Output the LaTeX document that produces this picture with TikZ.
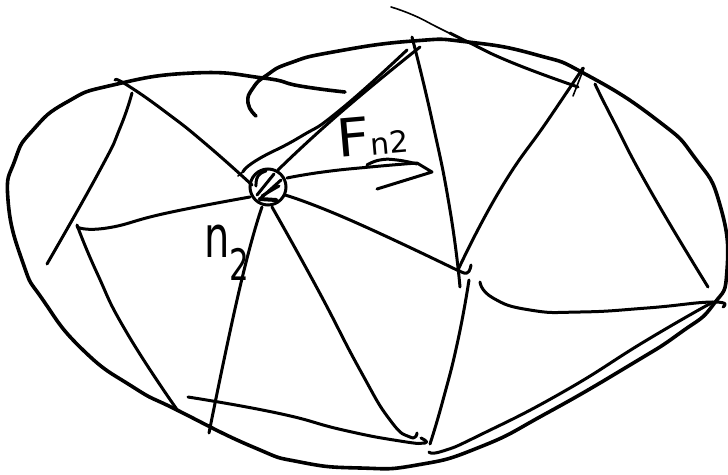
\documentclass[tikz,border=0pt]{standalone}
\usepackage{graphicx}
\usepackage{fontspec}
\setmainfont{DejaVu Sans}
\tikzset{
  pen/.style={line width=3pt,line cap=round,line join=round,black},
  heavy pen/.style={pen,line width=3.6pt},
  thin pen/.style={pen,line width=1.6pt},
  curve/.style={smooth,tension=0.9},
  handlabel/.style={inner sep=0pt,anchor=base west}
}
\newcommand{\fsz}[1]{\fontsize{#1}{#1}\selectfont}
\begin{document}
\begin{tikzpicture}[x=1pt,y=-1pt]
\useasboundingbox (0,0) rectangle (728,474);
% outer boundary
\draw[heavy pen] plot[curve] coordinates {(345,92) (300,86) (263,78) (193,73) (113,85) (67,102) (33,130) (15,160) (8,200) (23,263) (43,300) (83,350) (133,387) (177,410) (253,447) (300,462) (360,468) (417,465) (480,447) (547,413) (630,365) (680,333) (713,305) (727,270) (720,205) (695,158) (657,120) (587,75) (537,55) (468,42) (413,41) (333,52) (290,63) (267,75) (253,88) (248,103) (256,116)};
% long top stroke
\draw[thin pen] plot[curve] coordinates {(391,7) (413,15) (437,27) (455,36)};
\draw[pen] plot[curve] coordinates {(450,33) (468,42) (513,63) (578,87)};
% interior edges
\draw[thin pen] (238,176) -- (245,170);
\draw[pen] plot[curve] coordinates {(243,172) (257,160) (300,137) (340,110) (407,50)};
\draw[pen] plot[curve] coordinates {(278,170) (340,113) (420,47)};
\draw[pen] plot[curve] coordinates {(115,80) (127,85) (167,113) (207,145) (252,185)};
\draw[pen] plot[curve] coordinates {(132,93) (120,128) (100,170) (47,264)};
\draw[pen] plot[curve] coordinates {(77,227) (107,228) (167,213) (250,197)};
\draw[pen] plot[curve] coordinates {(77,225) (97,273) (127,333) (178,411)};
\draw[pen] plot[curve] coordinates {(262,207) (240,287) (209,433)};
\draw[pen] plot[curve] coordinates {(272,207) (317,288) (360,370) (390,420) (410,437) (417,433)};
\draw[pen] plot[curve] coordinates {(188,397) (277,413) (343,430) (400,441) (425,443) (421,438)};
\draw[pen] plot[curve] coordinates {(285,195) (350,220) (459,271)};
\draw[pen] plot[curve] coordinates {(412,37) (432,120) (450,210) (460,287)};
\draw[pen] plot[curve] coordinates {(458,270) (467,273) (471,265)};
\draw[pen] plot[curve] coordinates {(469,280) (458,340) (443,400) (430,444)};
\draw[pen] plot[curve] coordinates {(458,270) (500,190) (548,120) (583,68)};
\draw[thin pen] (573,96) -- (584,68);
\draw[pen] plot[curve] coordinates {(595,84) (613,120) (650,190) (708,287)};
\draw[pen] plot[curve] coordinates {(480,282) (493,298) (530,310) (580,312) (647,308) (713,302) (723,307)};
\draw[pen] plot[curve] coordinates {(429,452) (443,451) (480,435) (563,392) (647,340) (713,302)};
% force arrow
\draw[pen] plot[curve] coordinates {(287,178) (323,172) (370,167) (417,163)};
\draw[pen] (417,163) -- (432,172) -- (377,189);
\draw[pen] plot[curve] coordinates {(367,165) (380,160) (397,160) (417,164)};
% node
\node[circle,draw,line width=3pt,minimum size=36pt,inner sep=0pt] (n) at (268,187) {};
\draw[pen] (257,195) -- (274,174);
\draw[pen] (261,198) -- (281,180);
\draw[pen] plot[curve] coordinates {(256,186) (258,176) (266,171)};
\draw[pen] plot[curve] coordinates {(262,196) (272,190) (279,186)};
\draw[pen,line width=4pt] (260,199) -- (276,200);
% labels
\node[handlabel,rotate=5] (fn) at (338,158) {\scalebox{1.15}[1.05]{\fsz{50}F}\fsz{30}n2};
\node[handlabel] (nn) at (204,257) {\scalebox{1}[1.45]{\fsz{40}n}\raisebox{-23pt}{\scalebox{1}[1.4]{\fsz{31}2}}};
\end{tikzpicture}
\end{document}
